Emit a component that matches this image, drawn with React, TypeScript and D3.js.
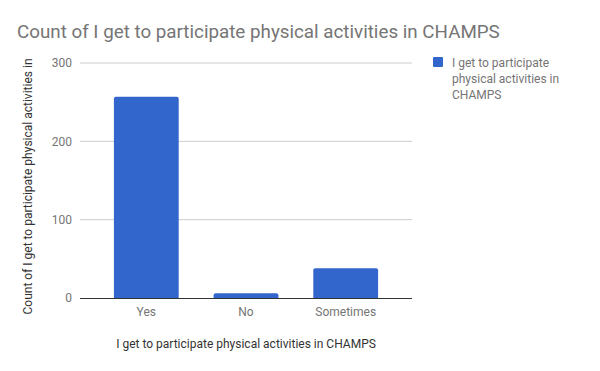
import React from 'react';
import * as d3 from 'd3';

const categories = ['Yes', 'No', 'Sometimes'];
const counts = [257, 6, 38];
const yTicks = [0, 100, 200, 300];
const seriesName = 'I get to participate physical activities in CHAMPS';
const legendLines = ['I get to participate', 'physical activities in', 'CHAMPS'];

const W = 600;
const H = 371;
const left = 80;
const right = 412;
const top = 63;
const bottom = 298;
const font = 'Roboto, Arial, sans-serif';

const App = () => {
  const x = d3.scaleBand<string>()
    .domain(categories)
    .range([left, right])
    .paddingInner(0.35)
    .paddingOuter(0.34);
  const y = d3.scaleLinear().domain([0, 300]).range([bottom, top]);

  // bar with slightly rounded top corners
  const barPath = (x0: number, y0: number, w: number, h: number) => {
    const r = Math.min(2, h / 2);
    const p = d3.path();
    p.moveTo(x0, y0 + h);
    p.lineTo(x0, y0 + r);
    p.quadraticCurveTo(x0, y0, x0 + r, y0);
    p.lineTo(x0 + w - r, y0);
    p.quadraticCurveTo(x0 + w, y0, x0 + w, y0 + r);
    p.lineTo(x0 + w, y0 + h);
    p.closePath();
    return p.toString();
  };

  return (
    <svg width={W} height={H} style={{ display: 'block', margin: -8, fontFamily: font }}>
      <rect width={W} height={H} fill="#fff" />
      <text x={17} y={38} fontSize={18.8} fill="#757575">
        Count of I get to participate physical activities in CHAMPS
      </text>

      {yTicks.map((t) => (
        <g key={t}>
          {t !== 0 && (
            <line x1={left} x2={right} y1={y(t)} y2={y(t)} stroke="#cccccc" strokeWidth={1} />
          )}
          <text x={72} y={y(t)} dy="0.35em" textAnchor="end" fontSize={12} fill="#757575">
            {t}
          </text>
        </g>
      ))}

      {categories.map((c, i) => {
        const bx = x(c) as number;
        const by = y(counts[i]);
        return (
          <path key={c} d={barPath(bx, by, x.bandwidth(), bottom - by)} fill="#3366cc" />
        );
      })}

      <line x1={left} x2={right} y1={bottom + 0.5} y2={bottom + 0.5} stroke="#333333" strokeWidth={1} />

      {categories.map((c) => (
        <text
          key={c}
          x={(x(c) as number) + x.bandwidth() / 2}
          y={316}
          textAnchor="middle"
          fontSize={12}
          fill="#757575"
        >
          {c}
        </text>
      ))}

      <text x={246} y={348} textAnchor="middle" fontSize={12} fill="#333333">
        {seriesName}
      </text>

      <text
        transform={`translate(32, ${(top + bottom) / 2 + 6}) rotate(-90)`}
        textAnchor="middle"
        fontSize={12}
        fill="#333333"
      >
        Count of I get to participate physical activities in
      </text>

      <rect x={433} y={57} width={10} height={10} rx={1} fill="#3366cc" />
      {legendLines.map((l, i) => (
        <text key={l} x={452} y={67 + i * 16} fontSize={12} fill="#757575">
          {l}
        </text>
      ))}
    </svg>
  );
};

export default App;
